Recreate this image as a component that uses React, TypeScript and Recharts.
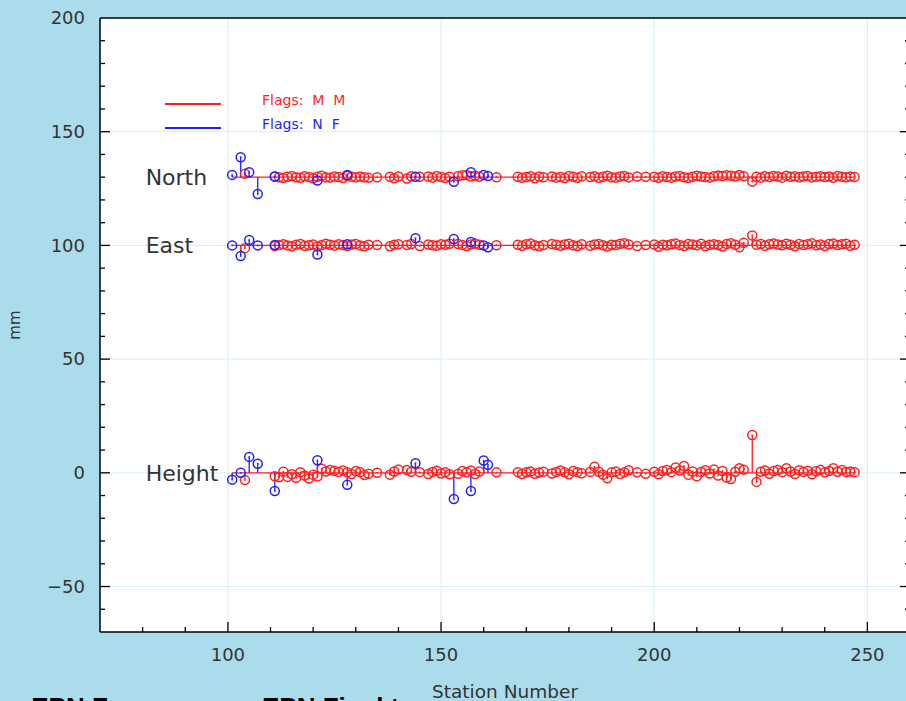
import React from 'react';
import { ComposedChart, Scatter, XAxis, YAxis, ReferenceLine, ReferenceDot, ErrorBar } from 'recharts';

// offsets of the three component bands (mm)
const NORTH_BASE = 130;
const EAST_BASE = 100;
const HEIGHT_BASE = 0;

// stations flagged "M M" (red)
const redStations = [
  104,
  111, 112, 113, 114, 115, 116, 117, 118, 119, 120, 121, 122, 123, 124, 125, 126, 127, 128, 129, 130, 131, 132, 133,
  135,
  138, 139, 140,
  142, 143, 145,
  147, 148, 149, 150, 151, 152,
  154, 155, 156, 157, 158, 159,
  163,
  168, 169, 170, 171, 172, 173, 174,
  176, 177, 178, 179, 180, 181, 182, 183,
  185, 186, 187, 188, 189, 190, 191, 192, 193, 194,
  196, 198,
  200, 201, 202, 203, 204, 205, 206, 207, 208, 209, 210, 211, 212, 213, 214, 215, 216, 217, 218, 219, 220, 221,
  223, 224, 225, 226, 227, 228, 229, 230, 231, 232, 233, 234, 235, 236, 237, 238, 239, 240, 241, 242, 243, 244, 245, 246, 247,
];
const redNorth = [
  1.5,
  0.3, 0, -0.4, 0.2, 0.5, 0, -0.3, 0.4, 0.1, -0.5, 0.2, 0.6, 0, -0.2, 0.3, 0.1, -0.4, 0.5, 0.2, -0.1, 0.3, 0, -0.3,
  0,
  0.2, -0.5, 0.3,
  -0.6, 0.4, 0.2,
  0.3, -0.2, 0.5, 0.1, -0.4, 0.2,
  0.4, 0.8, 1.0, 0.3, 0.6, 0.2,
  0,
  0.2, -0.3, 0.1, 0.4, -0.5, 0.3, 0,
  0.3, -0.2, 0.1, -0.4, 0.5, 0.2, -0.3, 0.4,
  0.1, 0.4, -0.3, 0.2, 0.6, 0, -0.2, 0.3, 0.5, -0.1,
  0.3, 0.2,
  0.2, -0.3, 0.4, 0.1, -0.2, 0.3, 0.5, 0, -0.4, 0.2, 0.6, 0.3, 0.1, -0.2, 0.4, 0.7, 0.5, 0.9, 0.6, 0.3, 1.0, 0.4,
  -1.9, 0.2, -0.3, 0.4, 0.1, 0.5, 0.3, -0.2, 0.6, 0.2, 0.4, 0, 0.3, 0.5, -0.1, 0.2, 0.4, 0.1, 0.3, -0.3, 0.5, 0.2, 0, 0.3, 0.1,
];
const redEast = [
  -1.2,
  -0.3, 0.2, 0.5, 0, -0.4, 0.3, 0.6, -0.2, 0.1, 0.4, -0.5, 0.2, 0.7, 0.3, -0.1, 0.5, 0.2, -0.3, 0.4, 0.6, 0, -0.4, 0.3,
  0.2,
  -0.4, 0.3, 0.5,
  0.2, 0.6, -0.3,
  0.4, 0.1, -0.2, 0.5, 0.3, 0.7,
  0.6, 0.2, -0.3, 0.4, 0.8, 0.3,
  0.1,
  0.3, -0.2, 0.5, 0.8, 0.1, -0.4, 0.2,
  0.6, 0.3, -0.2, 0.4, 0.7, 0.1, -0.3, 0.5,
  -0.2, 0.4, 0.6, 0.1, -0.5, 0.3, 0.2, 0.7, 0.9, 0.4,
  -0.3, 0.2,
  0.4, -0.6, 0.3, 0.1, 0.5, 0.8, 0.2, -0.3, 0.6, 0.4, 0, 0.7, -0.4, 0.3, 0.5, 0.2, -0.5, 0.6, 1.0, 0.3, -0.8, 1.2,
  4.4, 0.3, 0.6, -0.2, 0.5, 0.8, 0.4, 0.1, 0.7, 0.3, -0.4, 0.6, 0.2, 0.5, 0.9, 0.1, 0.4, -0.3, 0.6, 0.8, 0.2, 0.5, 0.7, -0.2, 0.3,
];
const redHeight = [
  -3.2,
  -1.5, -2.0, 0.5, -1.8, -0.6, -2.2, 0.3, -1.2, -2.5, -0.8, -1.6, 1.8, 0.6, 1.2, 0.9, 0.4, 1.0, 0.2, -0.5, 0.8, 0.3, -1.0, -0.4,
  0,
  -0.8, 0.6, 1.5,
  1.2, 0.5, 0.3,
  -0.5, 0.4, 0.9, -0.3, 0.2, -0.6,
  -0.4, 0.8, 0.2, 1.0, -0.5, 0.6,
  0.2,
  0.3, -0.5, 0.2, 0.6, -0.4, 0.1, 0.5,
  -0.3, 0.4, 1.0, 0.2, -0.6, 0.8, 0.3, -0.2,
  0.4, 2.7, 0.5, -0.8, -2.4, 0.2, 0.6, -0.5, 0.3, 1.1,
  0.2, -0.4,
  0.5, -0.6, 0.8, 1.2, 0.3, 2.3, 1.0, 3.0, -0.8, 0.6, -1.5, 0.4, 1.1, -0.3, 1.5, -1.2, 0.8, -2.1, -2.7, 0.5, 2.0, 1.4,
  16.6, -4.0, 0.5, 1.0, -0.4, 0.8, 1.2, 0.3, 2.0, 0.6, -0.5, 1.1, 0.4, 0.9, -0.6, 0.7, 1.3, 0.2, 0.8, 2.0, 0.5, 1.2, 0.4, 0.6, 0.3,
];

// stations flagged "N F" (blue)
const blueStations = [101, 103, 105, 107, 111, 121, 128, 144, 153, 157, 160, 161];
const blueNorth = [1.0, 8.8, 2.2, -7.4, 0.3, -1.5, 1.0, 0.2, -2.0, 2.2, 1.0, 0.5];
const blueEast = [0.0, -4.7, 2.4, 0.0, 0.2, -4.0, 0.5, 3.2, 2.8, 1.5, 0.0, -0.8];
const blueHeight = [-3.0, 0.0, 7.0, 4.0, -8.0, 5.5, -5.3, 4.2, -11.5, -8.0, 5.4, 3.5];

const xTicks = [80, 90, 100, 110, 120, 130, 140, 150, 160, 170, 180, 190, 200, 210, 220, 230, 240, 250];
const yTicks = [-60, -50, -40, -30, -20, -10, 0, 10, 20, 30, 40, 50, 60, 70, 80, 90, 100, 110, 120, 130, 140, 150, 160, 170, 180, 190, 200];
const gridX = [100, 150, 200, 250];
const gridY = [-50, 0, 50, 100, 150];

const RED = '#ff1f1f';
const BLUE = '#1f1fff';
const BG = '#abdcec';
const GRID = '#d6effa';
const FONT = '"DejaVu Sans", sans-serif';

function buildPoints(stations: number[], north: number[], east: number[], height: number[]) {
  const pts: { x: number; y: number; err: [number, number] }[] = [];
  const add = (s: number, base: number, v: number) =>
    pts.push({ x: s, y: base + v, err: v >= 0 ? [v, 0] : [0, -v] });
  stations.forEach((s, i) => {
    add(s, NORTH_BASE, north[i]);
    add(s, EAST_BASE, east[i]);
    add(s, HEIGHT_BASE, height[i]);
  });
  return pts;
}

const redPoints = buildPoints(redStations, redNorth, redEast, redHeight);
const bluePoints = buildPoints(blueStations, blueNorth, blueEast, blueHeight);
const lineStart = Math.min(...blueStations, ...redStations);
const lineEnd = Math.max(...blueStations, ...redStations);

const ring = (color: string) => (props: any) => {
  const { cx, cy } = props;
  if (cx == null || cy == null) return <g />;
  return (
    <g>
      <circle cx={cx} cy={cy} r={4.5} fill="none" stroke={color} strokeWidth={1.5} />
      <circle cx={cx} cy={cy} r={0.9} fill={color} />
    </g>
  );
};

const isMajor = (v: number) => v % 50 === 0;

const BottomTick = (props: any) => {
  const { x, y, payload } = props;
  const major = isMajor(payload.value);
  return (
    <g>
      <line x1={x} x2={x} y1={y} y2={y - (major ? 10 : 5)} stroke="#000" strokeWidth={1.3} />
      {major && (
        <text x={x} y={y + 29} textAnchor="middle" fontSize={18} fontFamily={FONT} fill="#333">
          {payload.value}
        </text>
      )}
    </g>
  );
};

const TopTick = (props: any) => {
  const { x, y, payload } = props;
  const major = isMajor(payload.value);
  return <line x1={x} x2={x} y1={y} y2={y + (major ? 10 : 5)} stroke="#000" strokeWidth={1.3} />;
};

const LeftTick = (props: any) => {
  const { x, y, payload } = props;
  const major = isMajor(payload.value);
  return (
    <g>
      {payload.value !== 200 && (
        <line x1={x} x2={x + (major ? 10 : 5)} y1={y} y2={y} stroke="#000" strokeWidth={1.3} />
      )}
      {major && (
        <text x={x - 15} y={y} dy="0.35em" textAnchor="end" fontSize={18} fontFamily={FONT} fill="#333">
          {payload.value < 0 ? `\u2212${Math.abs(payload.value)}` : payload.value}
        </text>
      )}
    </g>
  );
};

const RightTick = (props: any) => {
  const { x, y, payload } = props;
  const major = isMajor(payload.value);
  if (payload.value === 200) return <g />;
  return <line x1={x} x2={x - (major ? 10 : 5)} y1={y} y2={y} stroke="#000" strokeWidth={1.3} />;
};

const bandLabel = (text: string) => ({
  value: text,
  position: 'right' as const,
  offset: 3,
  fill: '#333',
  fontSize: 22,
  fontFamily: FONT,
});

export default function App() {
  return (
    <div style={{ position: 'absolute', left: 0, top: 0, width: 906, height: 701, overflow: 'hidden', background: BG }}>
      <ComposedChart width={920} height={701} margin={{ top: 0, right: 0, bottom: 0, left: 0 }}>
        <rect x={100} y={18} width={810} height={614} fill="#fff" />
        <XAxis
          dataKey="x"
          type="number"
          domain={[70, 260]}
          ticks={xTicks}
          interval={0}
          allowDataOverflow
          height={69}
          tickSize={0}
          tickMargin={0}
          tickLine={false}
          tick={<BottomTick />}
          axisLine={{ stroke: '#000', strokeWidth: 1.5 }}
          label={{ value: 'Station Number', position: 'insideBottom', offset: 3, fill: '#333', fontSize: 18.5, fontFamily: FONT }}
        />
        <XAxis
          xAxisId="top"
          orientation="top"
          type="number"
          domain={[70, 260]}
          ticks={xTicks}
          interval={0}
          allowDataOverflow
          height={18}
          tickSize={0}
          tickMargin={0}
          tickLine={false}
          tick={<TopTick />}
          axisLine={{ stroke: '#000', strokeWidth: 1.5 }}
        />
        <YAxis
          dataKey="y"
          type="number"
          domain={[-70, 200]}
          ticks={yTicks}
          interval={0}
          allowDataOverflow
          width={100}
          tickSize={0}
          tickMargin={0}
          tickLine={false}
          tick={<LeftTick />}
          axisLine={{ stroke: '#000', strokeWidth: 1.5 }}
          label={{ value: 'mm', angle: -90, position: 'insideLeft', offset: 15, fill: '#333', fontSize: 15, fontFamily: FONT, style: { textAnchor: 'middle' } }}
        />
        <YAxis
          yAxisId="right"
          orientation="right"
          type="number"
          domain={[-70, 200]}
          ticks={yTicks}
          interval={0}
          allowDataOverflow
          width={10}
          tickSize={0}
          tickMargin={0}
          tickLine={false}
          tick={<RightTick />}
          axisLine={{ stroke: '#000', strokeWidth: 1.5 }}
        />
        {gridX.map((v) => (
          <ReferenceLine key={`gx${v}`} x={v} stroke={GRID} strokeWidth={1} />
        ))}
        {gridY.map((v) => (
          <ReferenceLine key={`gy${v}`} y={v} stroke={GRID} strokeWidth={1} />
        ))}
        {[NORTH_BASE, EAST_BASE, HEIGHT_BASE].map((b) => (
          <ReferenceLine
            key={`base${b}`}
            segment={[{ x: lineStart, y: b }, { x: lineEnd, y: b }]}
            stroke={RED}
            strokeWidth={1.3}
          />
        ))}
        <ReferenceDot x={80} y={NORTH_BASE} r={0} stroke="none" label={bandLabel('North')} />
        <ReferenceDot x={80} y={EAST_BASE} r={0} stroke="none" label={bandLabel('East')} />
        <ReferenceDot x={80} y={HEIGHT_BASE} r={0} stroke="none" label={bandLabel('Height')} />
        <Scatter name="Flags: M M" data={redPoints} shape={ring(RED)} isAnimationActive={false}>
          <ErrorBar dataKey="err" direction="y" width={0} stroke={RED} strokeWidth={1.3} />
        </Scatter>
        <Scatter name="Flags: N F" data={bluePoints} shape={ring(BLUE)} isAnimationActive={false}>
          <ErrorBar dataKey="err" direction="y" width={0} stroke={BLUE} strokeWidth={1.3} />
        </Scatter>
      </ComposedChart>

      {/* legend */}
      <div style={{ position: 'absolute', left: 165, top: 103, width: 56, height: 2, background: RED }} />
      <div style={{ position: 'absolute', left: 262, top: 92, fontSize: 14, lineHeight: '16px', fontFamily: FONT, color: RED, whiteSpace: 'pre' }}>
        {'Flags:  M  M'}
      </div>
      <div style={{ position: 'absolute', left: 165, top: 127, width: 56, height: 2, background: BLUE }} />
      <div style={{ position: 'absolute', left: 262, top: 116, fontSize: 14, lineHeight: '16px', fontFamily: FONT, color: BLUE, whiteSpace: 'pre' }}>
        {'Flags:  N  F'}
      </div>

      {/* slide text cut off at the bottom, as in the source picture */}
      <div style={{ position: 'absolute', left: 2, top: 694, fontSize: 26, lineHeight: '26px', fontWeight: 'bold', fontFamily: '"Liberation Sans", Arial, sans-serif', color: '#000', whiteSpace: 'pre' }}>
        {'\u2794 EPN F'}
      </div>
      <div style={{ position: 'absolute', left: 262, top: 694, fontSize: 26, lineHeight: '26px', fontWeight: 'bold', fontFamily: '"Liberation Sans", Arial, sans-serif', color: '#000', whiteSpace: 'pre' }}>
        {'EPN Final t'}
      </div>
    </div>
  );
}
